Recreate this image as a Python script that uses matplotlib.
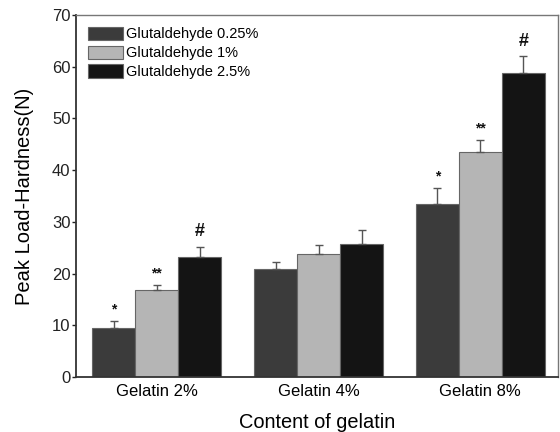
import numpy as np
import matplotlib.pyplot as plt

plt.rcParams['font.family'] = ['Liberation Sans', 'DejaVu Sans']

groups = ['Gelatin 2%', 'Gelatin 4%', 'Gelatin 8%']
series = ['Glutaldehyde 0.25%', 'Glutaldehyde 1%', 'Glutaldehyde 2.5%']
means = [
    [9.5, 20.8, 33.4],   # 0.25%
    [16.9, 23.8, 43.6],  # 1%
    [23.2, 25.8, 58.7],  # 2.5%
]
errors = [
    [1.3, 1.4, 3.1],
    [0.8, 1.7, 2.2],
    [2.0, 2.6, 3.3],
]
marks = [
    ['*', '', '*'],
    ['**', '', '**'],
    ['#', '', '#'],
]
colors = ['#3b3b3b', '#b5b5b5', '#141414']

fig = plt.figure(figsize=(5.6, 4.32), dpi=100)
ax = fig.add_axes([0.1357, 0.1273, 0.8607, 0.838])

x = np.arange(len(groups))
width = 0.266
for i, name in enumerate(series):
    pos = x + (i - 1) * width
    ax.bar(pos, means[i], width, color=colors[i], edgecolor='#666666',
           linewidth=0.8, label=name, zorder=2)
    ax.errorbar(pos, means[i], yerr=[np.zeros(len(groups)), errors[i]],
                fmt='none', ecolor='#555555', elinewidth=1.0, capsize=3,
                capthick=1.0, zorder=3)
    for j, m in enumerate(marks[i]):
        if not m:
            continue
        top = means[i][j] + errors[i][j]
        if m == '#':
            ax.text(pos[j], top + 1.2, m, ha='center', va='bottom',
                    fontsize=13, fontweight='bold', color='#111111')
        else:
            ax.text(pos[j], top + 1.0, m, ha='center', va='bottom',
                    fontsize=10, fontweight='bold', color='#111111')

ax.set_xlim(-0.5, 2.48)
ax.set_ylim(0, 70)
ax.set_yticks(range(0, 71, 10))
ax.set_xticks(x)
ax.set_xticklabels(groups, fontsize=12)
ax.tick_params(axis='x', length=0, pad=5)
ax.tick_params(axis='y', length=3, width=1, labelsize=12, pad=1,
               colors='#222222')
ax.set_ylabel('Peak Load-Hardness(N)', fontsize=14.5, labelpad=13)
ax.set_xlabel('Content of gelatin', fontsize=14.4, labelpad=10)

for side in ['left', 'bottom']:
    ax.spines[side].set_color('#333333')
    ax.spines[side].set_linewidth(1.3)
for side in ['top', 'right']:
    ax.spines[side].set_color('#777777')
    ax.spines[side].set_linewidth(1.0)

ax.legend(loc='upper left', frameon=False, fontsize=10.5, handlelength=2.4,
          handleheight=1.0, handletextpad=0.2, labelspacing=0.3,
          borderaxespad=0.4, bbox_to_anchor=(0.0, 1.0))

fig.savefig('out.png', dpi=100)
